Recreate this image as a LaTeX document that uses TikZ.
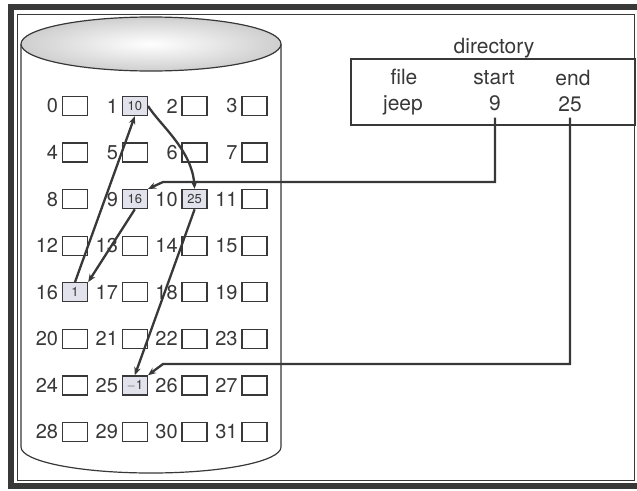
\documentclass[tikz,border=0pt]{standalone}
\usepackage{fontspec}
\setmainfont{TeX Gyre Heros}
\usetikzlibrary{arrows.meta,positioning}
\definecolor{ink}{gray}{0.22}
\definecolor{cell}{RGB}{226,226,236}
\tikzset{
  blk/.style={draw=ink,line width=1.4pt,minimum width=25pt,minimum height=19pt,inner sep=0pt,text=ink,font=\fontsize{13}{13}\selectfont},
  usedblk/.style={blk,fill=cell},
  num/.style={text=ink,inner sep=0pt,font=\fontsize{20}{20}\selectfont},
  dtxt/.style={text=ink,inner sep=0pt,anchor=base,font=\fontsize{21}{21}\selectfont},
  link/.style={draw=ink,line width=2.3pt,-{Stealth[length=8pt,width=6.5pt]}}
}

\begin{document}
\begin{tikzpicture}[x=1pt,y=-1pt]
\useasboundingbox (0,0) rectangle (637,490);
% frame
\draw[ink,line width=6pt](10.5,6.5) rectangle (645,486);
\draw[ink,line width=1pt](17,14) rectangle (634,480);
% disk
\draw[ink,line width=1.2pt,fill=white](21,44)--(21,447)
  arc[start angle=180,end angle=360,x radius=130pt,y radius=26pt]--(281,44);
\shadedraw[draw=ink,line width=1.2pt,inner color=white,outer color=gray!38]
  (151,44) ellipse[x radius=130pt,y radius=27pt];
% blocks
\foreach \r in {0,...,7}
  \foreach \c in {0,...,3}{
    \pgfmathtruncatemacro{\n}{4*\r+\c}
    \node[blk] (b\n) at ({75+59.8*\c},{106+46.57*\r}) {};
    \node[num,left=3.5pt of b\n] (l\n) {\n};
  }
\foreach \n/\v in {1/10,9/16,10/25,16/1,25/{$-$1}}
  \node[usedblk] (u\n) at (b\n) {\v};
% directory
\node[draw=ink,line width=1.4pt,minimum width=284pt,minimum height=66pt,inner sep=0pt] (dir) at (493,92) {};
\node[dtxt] (dname) at (494,53) {directory};
\node[dtxt] (hfile) at (404,84) {file};
\node[dtxt] (hstart) at (494,84) {start};
\node[dtxt] (hend) at (573,85) {end};
\node[dtxt] (jeep) at (403,110) {jeep};
\node[dtxt] (s9) at (495,110) {9};
\node[dtxt] (e25) at (570,111) {25};
\coordinate (sturn) at (163,182);
\coordinate (eturn) at (163,364);
\draw[link]([yshift=-7pt]s9.south) |- (sturn) -- (u9.north east);
\draw[link]([yshift=-6pt]e25.south) |- (eturn) -- (u25.north east);
% chain of blocks
\draw[link](u9.south) -- (u16.north east);
\draw[link](u16.north) -- (u1.south);
\draw[link](u1.east) .. controls (160,125) and (192,150) .. (u10.north);
\draw[link](u10.south) -- (u25.north);
\end{tikzpicture}
\end{document}
